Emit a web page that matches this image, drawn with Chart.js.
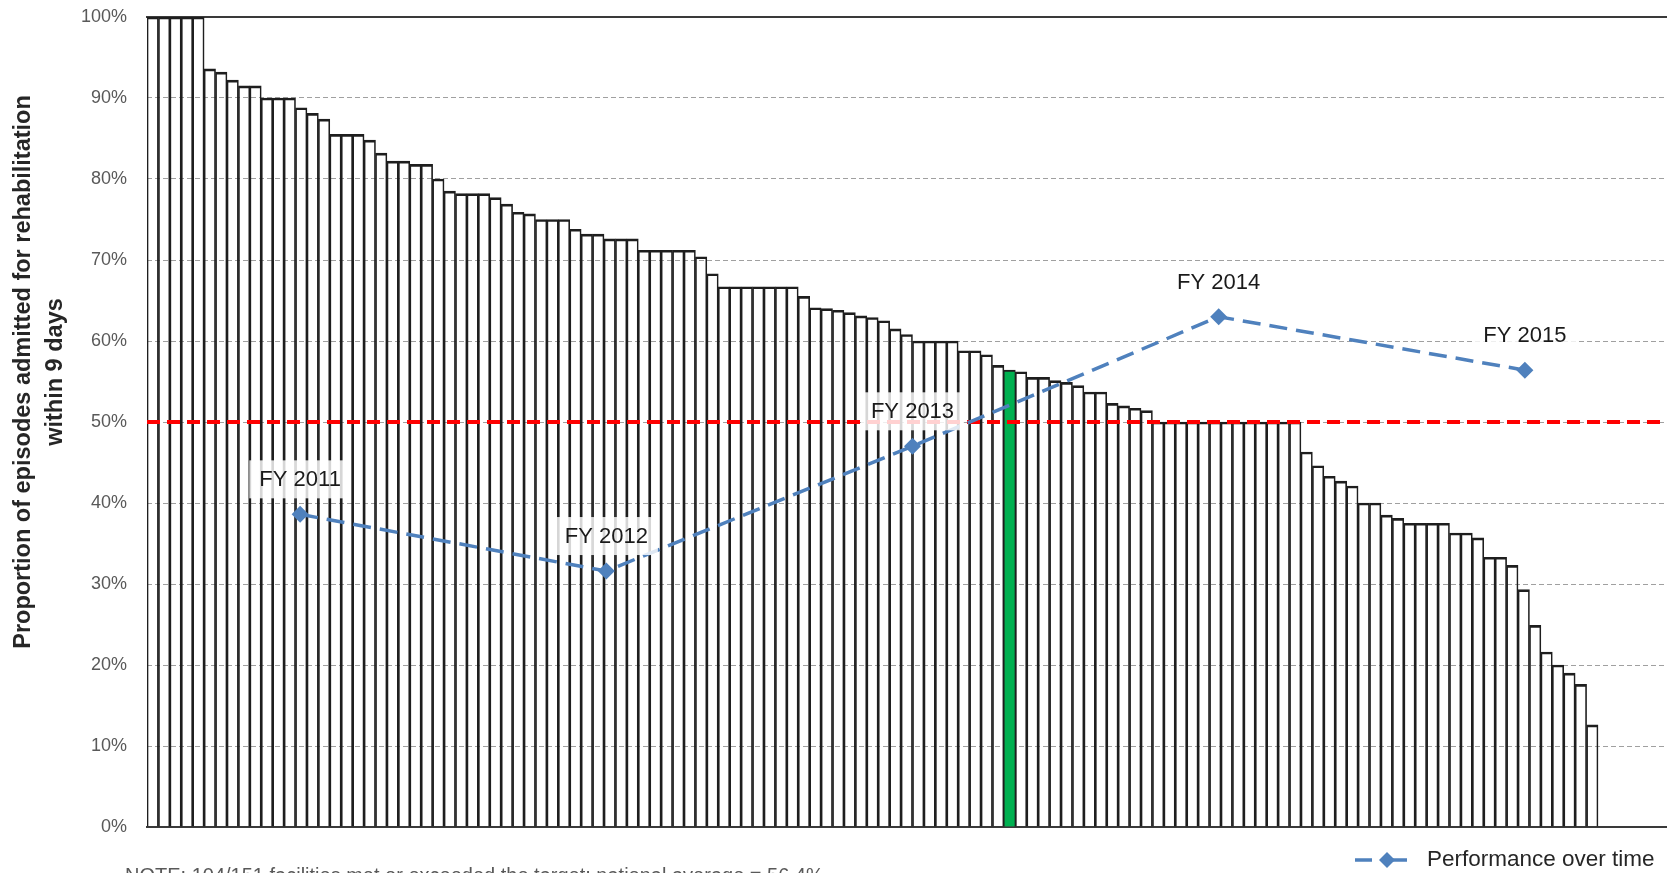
<!DOCTYPE html>
<html>
<head>
<meta charset="utf-8">
<script src="https://cdn.jsdelivr.net/npm/chart.js@4/dist/chart.umd.min.js"></script>
<style>
    html, body { margin: 0; padding: 0; background: #fff; overflow: hidden; }
    #wrap { position: relative; width: 1678px; height: 873px; }
</style>
</head>
<body>
<div id="wrap"><canvas id="chart"></canvas></div>
<script>
// proportion per facility, sorted high to low (%)
const facilityValues = [
    100, 100, 100, 100, 100, 93.6, 93.2, 92.2, 91.5, 91.5,
    90, 90, 90, 88.8, 88.1, 87.4, 85.5, 85.5, 85.5, 84.8,
    83.2, 82.2, 82.2, 81.8, 81.8, 80.0, 78.5, 78.2, 78.2, 78.2,
    77.7, 76.9, 75.9, 75.7, 75.0, 75.0, 75.0, 73.8, 73.2, 73.2,
    72.6, 72.6, 72.6, 71.2, 71.2, 71.2, 71.2, 71.2, 70.4, 68.3,
    66.7, 66.7, 66.7, 66.7, 66.7, 66.7, 66.7, 65.5, 64.1, 64.0,
    63.8, 63.5, 63.1, 62.9, 62.5, 61.5, 60.8, 60, 60, 60,
    60, 58.8, 58.8, 58.3, 57.0, 56.4, 56.2, 55.5, 55.5, 55.1,
    54.9, 54.5, 53.7, 53.7, 52.3, 52.0, 51.7, 51.4, 50, 50,
    50, 50, 50, 50, 50, 50, 50, 50, 50, 50,
    50, 46.3, 44.6, 43.3, 42.7, 42.1, 40, 40, 38.5, 38.1,
    37.5, 37.5, 37.5, 37.5, 36.3, 36.3, 35.7, 33.3, 33.3, 32.3,
    29.3, 24.9, 21.6, 20.0, 19.0, 17.6, 12.6
];
const highlightIndex = 75;
const slotCount = 134;
const facilityLabels = Array.from({ length: slotCount }, (_, i) => 'Facility ' + (i + 1));

const yearLabels = ['FY 2011', 'FY 2012', 'FY 2013', 'FY 2014', 'FY 2015'];
const yearValues = [38.6, 31.6, 47.0, 63.0, 56.4];

const targetEnds = ['start', 'end'];
const targetValues = [50, 50];

const yTitleLines = ['Proportion of episodes admitted for rehabilitation', 'within 9 days'];
const legendText = 'Performance over time';
const noteText = 'NOTE: 104/151 facilities met or exceeded the target; national average = 56.4%';

const FONT = '"Liberation Sans", Arial, sans-serif';
const BLUE = '#4F81BD';

const yearLabelPlugin = {
    id: 'yearLabels',
    afterDatasetsDraw(chart) {
        const meta = chart.getDatasetMeta(0);
        const ctx = chart.ctx;
        ctx.save();
        ctx.font = '22px ' + FONT;
        ctx.textAlign = 'center';
        ctx.textBaseline = 'middle';
        meta.data.forEach((pt, i) => {
            const text = yearLabels[i];
            const w = ctx.measureText(text).width + 20;
            const h = 38;
            const cy = pt.y - 35;
            ctx.fillStyle = 'rgba(255,255,255,0.82)';
            ctx.fillRect(pt.x - w / 2, cy - h / 2, w, h);
            ctx.fillStyle = '#1a1a1a';
            ctx.fillText(text, pt.x, cy + 1);
        });
        ctx.restore();
    }
};

const extrasPlugin = {
    id: 'extras',
    afterDraw(chart) {
        const ctx = chart.ctx;
        ctx.save();

        // y axis title, two lines
        ctx.fillStyle = '#262626';
        ctx.font = 'bold 23.5px ' + FONT;
        ctx.textAlign = 'center';
        ctx.textBaseline = 'middle';
        [23.5, 56].forEach((x, i) => {
            ctx.save();
            ctx.translate(x, 372);
            ctx.rotate(-Math.PI / 2);
            ctx.fillText(yTitleLines[i], 0, 0);
            ctx.restore();
        });

        // legend
        const ly = 860;
        ctx.strokeStyle = BLUE;
        ctx.lineWidth = 3.5;
        ctx.beginPath();
        ctx.moveTo(1355, ly); ctx.lineTo(1372, ly);
        ctx.moveTo(1392, ly); ctx.lineTo(1407, ly);
        ctx.stroke();
        ctx.fillStyle = BLUE;
        ctx.beginPath();
        ctx.moveTo(1387, ly - 8); ctx.lineTo(1395, ly); ctx.lineTo(1387, ly + 8); ctx.lineTo(1379, ly);
        ctx.closePath();
        ctx.fill();
        ctx.fillStyle = '#262626';
        ctx.font = '22.5px ' + FONT;
        ctx.textAlign = 'left';
        ctx.fillText(legendText, 1427, ly);

        // note, cut by the bottom edge
        ctx.fillStyle = '#595959';
        ctx.font = '20px ' + FONT;
        ctx.textBaseline = 'top';
        ctx.fillText(noteText, 125, 866);
        ctx.restore();
    }
};

const hiddenGrid = () => ({ drawOnChartArea: false, drawTicks: false });
const flatAxis = scale => { scale.height = 0; };

new Chart(document.getElementById('chart'), {
    type: 'bar',
    data: {
        labels: facilityLabels,
        datasets: [
            {
                type: 'line',
                label: legendText,
                data: yearValues,
                xAxisID: 'x2',
                borderColor: BLUE,
                borderWidth: 3.5,
                borderDash: [18, 9],
                pointStyle: 'rectRot',
                pointRadius: 8.5,
                pointBackgroundColor: BLUE,
                pointBorderColor: BLUE,
                pointBorderWidth: 0,
                tension: 0
            },
            {
                type: 'line',
                label: 'Target',
                data: targetValues,
                xAxisID: 'x3',
                borderColor: '#FF0000',
                borderWidth: 4,
                borderDash: [13, 7],
                pointRadius: 0
            },
            {
                label: 'Facilities',
                data: facilityValues,
                xAxisID: 'x',
                grouped: false,
                backgroundColor: facilityValues.map((_, i) => i === highlightIndex ? '#00B050' : 'rgba(255,255,255,0)'),
                borderColor: '#1e1e1e',
                borderWidth: { top: 2, left: 1, right: 1, bottom: 0 },
                borderSkipped: 'bottom',
                barPercentage: 1,
                categoryPercentage: 1
            }
        ]
    },
    options: {
        responsive: true,
        maintainAspectRatio: false,
        animation: false,
        devicePixelRatio: 1,
        events: [],
        layout: { autoPadding: false, padding: { top: 17, bottom: 46, left: 0, right: 0 } },
        plugins: { legend: { display: false }, tooltip: { enabled: false } },
        scales: {
            x: {
                type: 'category',
                position: 'bottom',
                offset: true,
                grid: hiddenGrid(),
                ticks: { display: false },
                border: { display: true, color: '#3a3a3a', width: 2 },
                afterFit: flatAxis
            },
            x2: {
                type: 'category',
                labels: yearLabels,
                position: 'top',
                offset: true,
                grid: hiddenGrid(),
                ticks: { display: false },
                border: { display: true, color: '#3a3a3a', width: 2 },
                afterFit: flatAxis
            },
            x3: {
                type: 'category',
                labels: targetEnds,
                display: false,
                offset: false
            },
            y: {
                min: 0,
                max: 100,
                ticks: {
                    stepSize: 10,
                    padding: 20,
                    color: '#595959',
                    font: { size: 18, family: FONT },
                    callback: v => v + '%'
                },
                grid: { color: '#a0a0a0', lineWidth: 1, drawTicks: false },
                border: { display: false, dash: [5, 3] },
                afterFit(scale) {
                    // tick padding is only meant as horizontal gap here
                    scale.width = 147;
                    scale.paddingTop = 11;
                    scale.paddingBottom = 11;
                }
            }
        }
    },
    plugins: [yearLabelPlugin, extrasPlugin]
});
</script>
</body>
</html>
